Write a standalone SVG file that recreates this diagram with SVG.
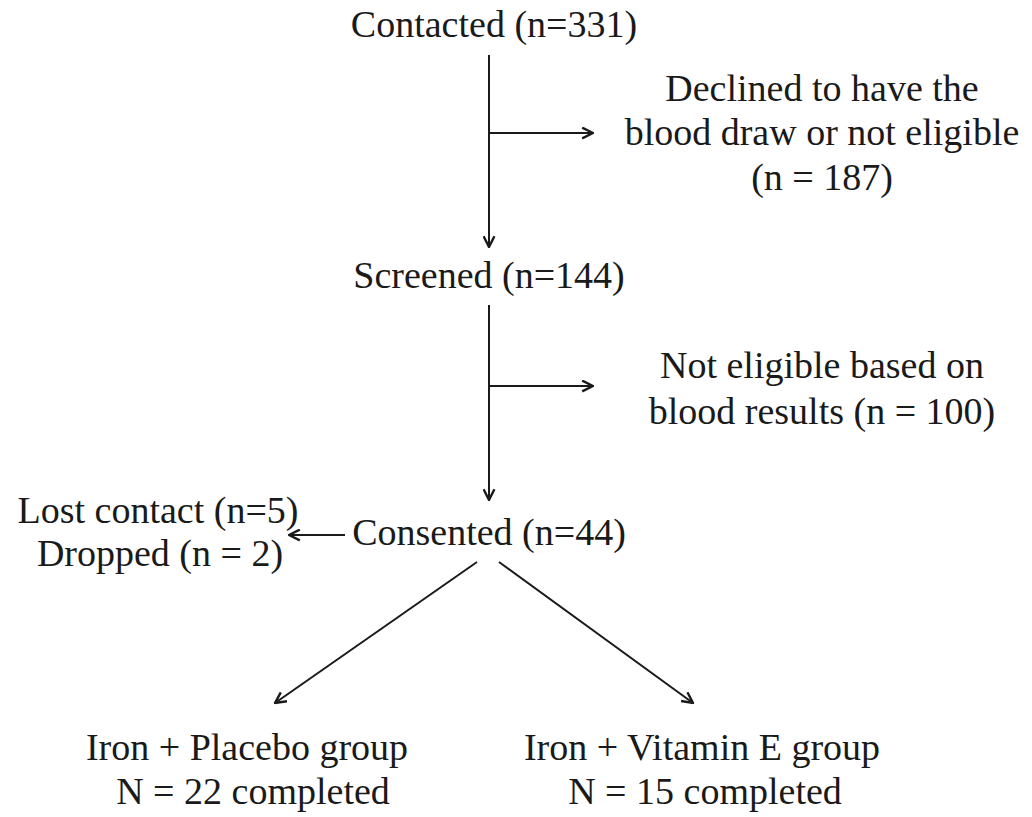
<svg xmlns="http://www.w3.org/2000/svg" width="1032" height="817" viewBox="0 0 1032 817">
<style>
text{font-family:"Liberation Serif","Times New Roman",serif;font-size:38px;fill:#1a1a1a;text-anchor:middle}
.c{stroke:#1a1a1a;stroke-width:2;fill:none}
</style>
<defs>
<marker id="ah" viewBox="0 0 12 12" refX="11" refY="6" markerWidth="13" markerHeight="13" markerUnits="userSpaceOnUse" orient="auto">
<path d="M1,1 L11,6 L1,11" fill="none" stroke="#1a1a1a" stroke-width="2.2"/>
</marker>
</defs>
<rect width="1032" height="817" fill="#fff"/>
<g id="contacted"><text x="494" y="37">Contacted (n=331)</text></g>
<g id="declined"><text x="822" y="101">Declined to have the</text><text x="822" y="145">blood draw or not eligible</text><text x="822" y="190">(n = 187)</text></g>
<g id="screened"><text x="489" y="288">Screened (n=144)</text></g>
<g id="noteligible"><text x="822" y="378">Not eligible based on</text><text x="822" y="424">blood results (n = 100)</text></g>
<g id="consented"><text x="489" y="545">Consented (n=44)</text></g>
<g id="lost"><text x="158" y="523">Lost contact (n=5)</text><text x="160" y="566">Dropped (n = 2)</text></g>
<g id="placebo"><text x="247" y="760">Iron + Placebo group</text><text x="253" y="804">N = 22 completed</text></g>
<g id="vitamine"><text x="702" y="760">Iron + Vitamin E group</text><text x="705" y="804">N = 15 completed</text></g>
<g id="connectors">
<line class="c" x1="489" y1="55" x2="489" y2="247" marker-end="url(#ah)"/>
<line class="c" x1="489" y1="133" x2="593" y2="133" marker-end="url(#ah)"/>
<line class="c" x1="489" y1="305" x2="489" y2="500" marker-end="url(#ah)"/>
<line class="c" x1="489" y1="386" x2="593" y2="386" marker-end="url(#ah)"/>
<line class="c" x1="345" y1="535" x2="289" y2="535" marker-end="url(#ah)"/>
<line class="c" x1="477" y1="562" x2="275" y2="703" marker-end="url(#ah)"/>
<line class="c" x1="499" y1="562" x2="693" y2="703" marker-end="url(#ah)"/>
</g>
</svg>
